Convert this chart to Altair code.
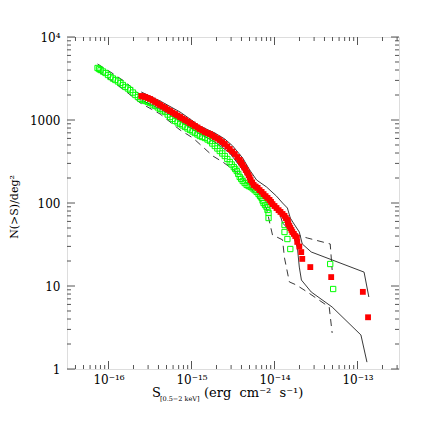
import math
import altair as alt
import pandas as pd

# ---- data (S in erg cm^-2 s^-1, N(>S) in deg^-2) ----
red_S = [2.48e-16, 2.62e-16, 2.77e-16, 2.97e-16, 3.18e-16, 3.41e-16, 3.66e-16, 3.92e-16,
         4.19e-16, 4.50e-16, 4.82e-16, 5.16e-16, 5.53e-16, 5.92e-16, 6.35e-16, 6.80e-16,
         7.28e-16, 7.80e-16, 8.36e-16, 8.96e-16, 9.6e-16, 1.03e-15, 1.10e-15, 1.18e-15,
         1.26e-15, 1.35e-15, 1.45e-15, 1.56e-15, 1.67e-15, 1.78e-15, 1.91e-15, 2.05e-15,
         2.19e-15, 2.35e-15, 2.52e-15, 2.70e-15, 2.89e-15, 3.10e-15, 3.32e-15, 3.56e-15,
         3.81e-15, 3.97e-15, 4.14e-15, 4.32e-15, 4.50e-15, 4.69e-15, 4.88e-15, 5.02e-15,
         5.16e-15, 5.38e-15, 5.60e-15, 5.92e-15, 6.26e-15, 6.61e-15, 6.99e-15, 7.38e-15,
         7.80e-15, 8.24e-15, 8.71e-15, 9.08e-15, 9.46e-15, 1.00e-14, 1.057e-14, 1.12e-14,
         1.18e-14, 1.25e-14, 1.32e-14, 1.37e-14, 1.43e-14, 1.45e-14, 1.47e-14, 1.51e-14,
         1.55e-14, 1.60e-14, 1.64e-14, 1.71e-14, 1.78e-14, 1.86e-14,
         1.88e-14, 1.99e-14, 2.10e-14, 2.16e-14, 2.70e-14, 4.82e-14, 1.16e-13, 1.34e-13]
red_N = [1946, 1919, 1893, 1841, 1791, 1718, 1648, 1581,
         1517, 1455, 1396, 1339, 1284, 1231, 1181, 1133,
         1087, 1042, 1000, 959, 920, 883, 847, 812,
         779, 747, 717, 697, 678, 650, 624, 598,
         574, 543, 514, 480, 447, 417, 389, 358,
         330, 308, 287, 268, 250, 233, 217, 203,
         189, 177, 165, 158, 152, 143, 136, 128,
         121, 115, 109, 103, 97, 92, 87, 82,
         78, 73.7, 70, 65.9, 62.4, 59, 55.8, 52.9,
         50, 47.3, 44.7, 42.4, 40, 38.4,
         34, 29.9, 25.6, 21.2, 16.9, 12.8, 8.5, 4.2]

green_S = [7.38e-17, 7.69e-17, 8.02e-17, 8.59e-17, 9.21e-17, 9.86e-17, 1.057e-16, 1.13e-16,
           1.21e-16, 1.30e-16, 1.39e-16, 1.49e-16, 1.60e-16, 1.71e-16, 1.83e-16, 1.97e-16,
           2.11e-16, 2.26e-16, 2.42e-16, 2.59e-16, 2.77e-16, 2.97e-16, 3.18e-16, 3.41e-16,
           3.66e-16, 3.92e-16, 4.19e-16, 4.50e-16, 4.82e-16, 5.16e-16, 5.53e-16, 5.92e-16,
           6.35e-16, 6.80e-16, 7.28e-16, 7.80e-16, 8.36e-16, 8.96e-16, 9.6e-16, 1.03e-15,
           1.10e-15, 1.18e-15, 1.26e-15, 1.35e-15, 1.45e-15, 1.56e-15, 1.67e-15, 1.78e-15,
           1.91e-15, 2.05e-15, 2.19e-15, 2.35e-15, 2.52e-15, 2.70e-15, 2.89e-15, 3.05e-15,
           3.23e-15, 3.36e-15, 3.51e-15, 3.66e-15, 3.81e-15, 3.97e-15, 4.14e-15, 4.37e-15,
           4.62e-15, 4.88e-15, 5.16e-15, 5.45e-15, 5.76e-15, 6.09e-15, 6.43e-15, 6.70e-15,
           6.99e-15, 7.18e-15, 7.38e-15, 7.69e-15, 8.02e-15, 8.24e-15, 8.48e-15,
           8.48e-15, 1.32e-14, 1.32e-14, 1.43e-14, 1.55e-14, 4.69e-14, 5.09e-14]
green_N = [4232, 4115, 4000, 3840, 3681, 3484, 3296, 3162,
           3033, 2911, 2791, 2642, 2500, 2397, 2297, 2143,
           2000, 1893, 1791, 1740, 1694, 1648, 1603, 1537,
           1475, 1416, 1357, 1301, 1248, 1164, 1087, 1028,
           973, 934, 895, 859, 824, 790, 758, 727,
           697, 669, 641, 624, 607, 582, 558, 521,
           486, 454, 423, 395, 368, 339, 312, 291,
           271, 257, 243, 224, 206, 195, 184, 174,
           165, 160, 156, 150, 143, 136, 128, 121,
           115, 107, 100, 94.6, 89.5, 82.4, 75.9,
           65.9, 54.3, 44.7, 36.8, 27.9, 18.4, 9.2]

solid_hi_S = [2.48e-16, 4.19e-16, 7.28e-16, 1.26e-15, 1.91e-15, 2.52e-15, 3.14e-15, 4.14e-15,
              5.02e-15, 6.09e-15, 8.02e-15, 1.057e-14, 1.25e-14, 1.43e-14, 1.55e-14, 1.69e-14,
              1.99e-14, 2.16e-14, 2.77e-14, 1.20e-13, 1.37e-13]
solid_hi_N = [2175, 1694, 1248, 847, 697, 590, 486, 348,
              250, 189, 156, 121, 100, 87, 65.9, 57.4,
              44.7, 32.1, 25.7, 14.7, 7.37]

solid_lo_S = [2.48e-16, 4.19e-16, 7.28e-16, 1.26e-15, 1.91e-15, 2.89e-15, 4.14e-15, 5.02e-15,
              7.59e-15, 9.46e-15, 1.15e-14, 1.25e-14, 1.64e-14, 1.89e-14, 1.99e-14, 2.11e-14,
              2.77e-14, 4.95e-14, 1.10e-13, 1.30e-13]
solid_lo_N = [1740, 1357, 973, 678, 543, 400, 250, 179,
              132, 100, 75.9, 57.4, 43.5, 28.7, 16.9, 11.8,
              8.47, 5.58, 2.57, 1.21]

dash_hi_S = [7.38e-17, 1.057e-16, 1.60e-16, 2.42e-16, 4.19e-16, 7.28e-16, 1.26e-15, 1.91e-15,
             2.89e-15, 3.81e-15, 5.02e-15, 6.61e-15, 8.71e-15, 1.057e-14, 1.25e-14, 1.39e-14,
             1.51e-14, 1.89e-14, 2.48e-14, 4.69e-14, 4.95e-14]
dash_hi_N = [4728, 3784, 2870, 2000, 1475, 1028, 737, 574,
             412, 287, 200, 152, 115, 89.5, 71.7, 59,
             47.2, 41.2, 37.9, 32.1, 15.6]

dash_lo_S = [7.38e-17, 1.057e-16, 1.60e-16, 2.42e-16, 4.19e-16, 7.28e-16, 1.042e-15, 1.81e-15,
             2.38e-15, 3.51e-15, 4.14e-15, 5.02e-15, 6.61e-15, 8.02e-15, 8.71e-15, 9.46e-15,
             1.25e-14, 1.32e-14, 1.51e-14, 1.83e-14, 2.48e-14, 4.56e-14, 4.95e-14]
dash_lo_N = [3895, 3033, 2236, 1603, 1181, 758, 607, 368,
             312, 236, 200, 156, 109, 87, 59, 41.2,
             36, 21.7, 11.2, 10.3, 8.47, 5.58, 2.72]

x_major = [1e-16, 1e-15, 1e-14, 1e-13]
x_major_labels = ["10⁻¹⁶", "10⁻¹⁵", "10⁻¹⁴", "10⁻¹³"]
y_major = [1, 10, 100, 1000, 10000]
y_major_labels = ["1", "10", "100", "1000", "10⁴"]

X_DOMAIN = [10 ** -16.5, 10 ** -12.5]
Y_DOMAIN = [1, 1e4]
x_minor = [m * 10.0 ** e for e in range(-17, -12) for m in range(2, 10)
           if X_DOMAIN[0] <= m * 10.0 ** e <= X_DOMAIN[1]]
y_minor = [m * 10.0 ** e for e in range(0, 4) for m in range(2, 10)]

W, H = 332, 332
FONT = "DejaVu Serif"


def label_expr(values, labels):
    expr = "''"
    for v, lab in reversed(list(zip(values, labels))):
        expr = f"abs(log(datum.value)/LN10 - ({math.log10(v):.4f})) < 0.01 ? '{lab}' : {expr}"
    return expr


x_axis = alt.Axis(values=x_major, labelExpr=label_expr(x_major, x_major_labels), ticks=False,
                  domain=False, grid=False, title=None, labelFont=FONT, labelFontSize=12,
                  labelPadding=5, labelColor="black")
y_axis = alt.Axis(values=y_major, labelExpr=label_expr(y_major, y_major_labels), ticks=False,
                  domain=False, grid=False, title=None, labelFont=FONT, labelFontSize=12,
                  labelPadding=7, labelColor="black")
xs = alt.Scale(type="log", domain=X_DOMAIN)
ys = alt.Scale(type="log", domain=Y_DOMAIN)


def curve_df(S, N, name):
    return pd.DataFrame({"S": S, "N": N, "curve": name, "i": range(len(S))})


solid_df = pd.concat([curve_df(solid_hi_S, solid_hi_N, "hi"), curve_df(solid_lo_S, solid_lo_N, "lo")])
dash_df = pd.concat([curve_df(dash_hi_S, dash_hi_N, "hi"), curve_df(dash_lo_S, dash_lo_N, "lo")])

X = alt.X("S:Q", scale=xs, axis=x_axis)
Y = alt.Y("N:Q", scale=ys, axis=y_axis)

solid = alt.Chart(solid_df).mark_line(color="#222222", strokeWidth=0.9, clip=True).encode(
    x=X, y=Y, detail="curve:N", order="i:Q")
dashed = alt.Chart(dash_df).mark_line(color="#222222", strokeWidth=0.9, strokeDash=[7, 5], clip=True).encode(
    x=X, y=Y, detail="curve:N", order="i:Q")
green = alt.Chart(pd.DataFrame({"S": green_S, "N": green_N})).mark_point(
    shape="square", filled=False, color="#00ff00", strokeWidth=1, size=28, opacity=1).encode(x=X, y=Y)
red = alt.Chart(pd.DataFrame({"S": red_S, "N": red_N})).mark_point(
    shape="square", filled=True, color="#ff0000", size=34, opacity=1).encode(x=X, y=Y)

TICK = "#555555"
xmaj_df = pd.DataFrame({"S": x_major})
xmin_df = pd.DataFrame({"S": x_minor})
ymaj_df = pd.DataFrame({"N": y_major})
ymin_df = pd.DataFrame({"N": y_minor})


def xticks(df, L):
    b = alt.Chart(df).mark_rule(color=TICK, strokeWidth=1)
    return (b.encode(x=X, y=alt.value(H), y2=alt.value(H - L)) +
            b.encode(x=X, y=alt.value(0), y2=alt.value(L)))


def yticks(df, L):
    b = alt.Chart(df).mark_rule(color=TICK, strokeWidth=1)
    return (b.encode(y=Y, x=alt.value(0), x2=alt.value(L)) +
            b.encode(y=Y, x=alt.value(W), x2=alt.value(W - L)))


def text(t, x, y, size, **kw):
    return alt.Chart(pd.DataFrame({"t": [t]})).mark_text(
        font=FONT, fontSize=size, color="black", **kw).encode(
        text="t:N", x=alt.value(x), y=alt.value(y))


NB = "\u00a0"
xtitle = (text("S", 85, 360, 13, align="left", baseline="alphabetic") +
          text("[0.5−2 keV]", 93, 364, 6.5, align="left", baseline="alphabetic") +
          text(f"(erg{NB}{NB}cm⁻²{NB}{NB}s⁻¹)", 137, 360, 13, align="left", baseline="alphabetic"))
ytitle = text("N(>S)/deg²", -52, 170, 11, align="center", baseline="middle", angle=270)

chart = alt.layer(
    solid, dashed, green, red,
    xticks(xmaj_df, 8), xticks(xmin_df, 4), yticks(ymaj_df, 8), yticks(ymin_df, 4),
    xtitle, ytitle,
).properties(
    width=W, height=H,
    autosize=alt.AutoSizeParams(type="none"),
    padding={"left": 59, "top": 29, "right": 29, "bottom": 59},
).configure_view(stroke="#333333", strokeWidth=1).configure(background="white")

chart.save("out.html", embed_options={"renderer": "svg", "actions": False})
